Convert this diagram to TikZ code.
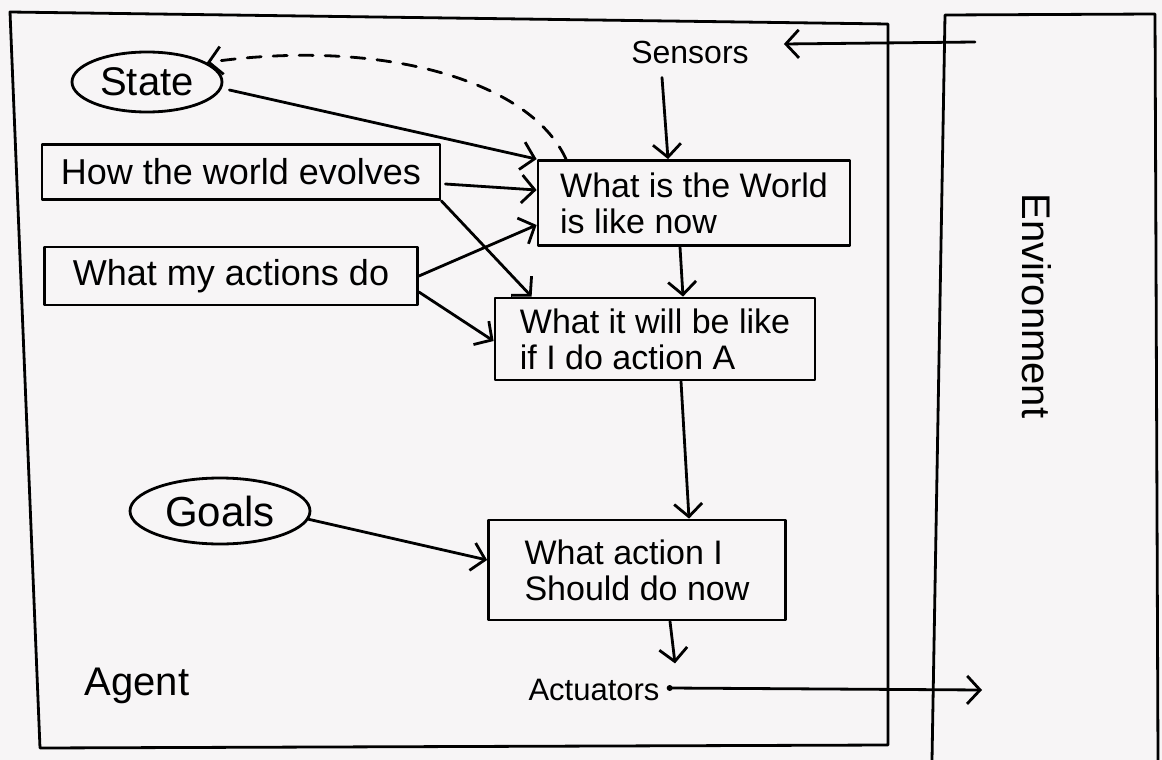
\documentclass[tikz,border=0pt]{standalone}
\usepackage{fontspec}
\setmainfont{Liberation Sans}
\usetikzlibrary{arrows.meta,shapes.geometric}
\definecolor{paper}{RGB}{247,245,246}
\begin{document}
\begin{tikzpicture}[x=1pt,y=-1pt,
  ink/.style={line width=2.8pt, black, line cap=round, line join=round},
  tip/.style={ink, -{Straight Barb[length=13pt,width=28pt]}},
  box/.style={ink, draw, rectangle, inner sep=0pt, align=left,
    font=\fontsize{34}{36}\selectfont},
  oval/.style={ink, draw, ellipse, inner sep=0pt, font=\fontsize{40}{44}\selectfont},
  lbl/.style={inner sep=0pt, font=\fontsize{32}{38}\selectfont}
]
\fill[paper] (0,0) rectangle (1162,760);
\useasboundingbox (0,0) rectangle (1162,760);

% agent and environment frames
\draw[ink] (888,24) -- (10,12) -- (40,748) -- (888,745) -- cycle;
\draw[ink] (932,760) -- (945,15) -- (1155,14) -- (1158,760);

% labels
\node[lbl] (sensors) at (690,52) {Sensors};
\node[lbl, font=\fontsize{31}{36}\selectfont] (actuators) at (594,690) {Actuators};
\node[lbl, font=\fontsize{40}{44}\selectfont] (agent) at (137,686) {Agent};
\node[lbl, rotate=-90, font=\fontsize{40}{44}\selectfont] (env) at (1037,306) {Environment};

% ovals
\node[oval, minimum width=150, minimum height=60] (state) at (147,82) {State};
\node[oval, minimum width=180, minimum height=66, font=\fontsize{42}{46}\selectfont] (goals) at (220,511) {Goals};

% boxes
\node[box, minimum width=398, minimum height=55, font=\fontsize{36}{40}\selectfont] (evolves) at (241,172) {How the world evolves};
\node[box, minimum width=373, minimum height=58, font=\fontsize{36}{40}\selectfont] (actions) at (231,276) {What my actions do};
\node[box, minimum width=312, minimum height=85] (now) at (694,203) {What is the World\\ is like now};
\node[box, minimum width=320, minimum height=82] (future) at (655,339) {What it will be like\\if I do action A};
\node[box, minimum width=297, minimum height=100] (decide) at (637,570) {What action I\\Should do now};

% feedback from current world back to state
\draw[ink, dash pattern=on 14pt off 12pt, -{Straight Barb[length=13pt,width=28pt]}]
  ([xshift=-128pt]now.north) .. controls (530,80) and (380,38) .. (state.18);

% inputs
\draw[tip] (state.east) ++(6,8) -- (now.north west);
\draw[tip] (evolves.east) ++(4,12) -- ([yshift=13pt]now.west);
\draw[tip] (actions.east) -- ([yshift=-22pt]now.west);
\draw[tip] (evolves.south east) -- ([xshift=38pt]future.north west);
\draw[tip] (actions.east) ++(0,16) -- ([yshift=-2pt]future.west);
\draw[tip] (goals.east) ++(-4,8) -- ([yshift=10pt]decide.west);

% main chain
\draw[tip] (sensors.south) ++(-28,14) -- ([xshift=-26pt]now.north);
\draw[tip] ([xshift=-14pt]now.south) -- ([xshift=28pt]future.north);
\draw[tip] ([xshift=26pt]future.south) -- ([xshift=52pt]decide.north);
\draw[tip] ([xshift=33pt]decide.south) -- ([xshift=38pt,yshift=-42pt]decide.south);

% percepts in, actions out
\coordinate (percept) at (975,42);
\coordinate (effect) at (982,690);
\draw[tip] (percept) -- ([xshift=35pt,yshift=8pt]sensors.east);
\fill (actuators.east) ++(10,-2) circle (3pt) coordinate (out);
\draw[tip] (out) -- (effect);
\end{tikzpicture}
\end{document}
